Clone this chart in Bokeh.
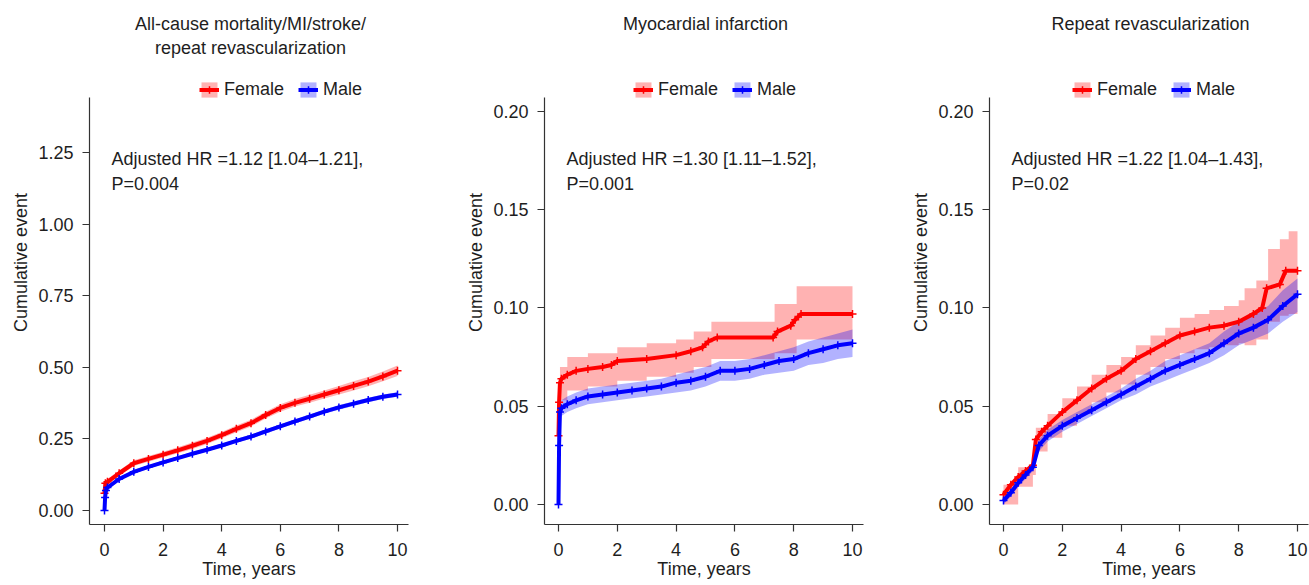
from bokeh.plotting import figure
from bokeh.models import Label, Legend, LegendItem, FixedTicker, PrintfTickFormatter, Range1d
from bokeh.layouts import row
from bokeh.embed import file_html
from bokeh.resources import INLINE

# ---------------- data ----------------
# Panel 1: All-cause mortality/MI/stroke/repeat revascularization
t1_female = [0, 0.03, 0.1, 0.5, 1, 1.5, 2, 2.5, 3, 3.5, 4, 4.5, 5, 5.5, 6, 6.5, 7, 7.5, 8, 8.5, 9, 9.5, 10]
y1_female = [0.06, 0.095, 0.10, 0.13, 0.165, 0.180, 0.195, 0.210, 0.226, 0.243, 0.263, 0.285, 0.305, 0.333, 0.358, 0.376, 0.390, 0.405, 0.420, 0.435, 0.450, 0.468, 0.488]
lo1_female = [0.045, 0.085, 0.09, 0.12, 0.155, 0.170, 0.185, 0.200, 0.215, 0.232, 0.252, 0.273, 0.293, 0.321, 0.345, 0.363, 0.376, 0.391, 0.405, 0.419, 0.434, 0.451, 0.470]
hi1_female = [0.075, 0.105, 0.11, 0.14, 0.175, 0.190, 0.205, 0.221, 0.237, 0.254, 0.274, 0.297, 0.317, 0.345, 0.371, 0.389, 0.404, 0.419, 0.435, 0.451, 0.466, 0.485, 0.506]
t1_male = [0, 0.02, 0.05, 0.1, 0.5, 1, 1.5, 2, 2.5, 3, 3.5, 4, 4.5, 5, 5.5, 6, 6.5, 7, 7.5, 8, 8.5, 9, 9.5, 10]
y1_male = [0.0, 0.045, 0.07, 0.08, 0.11, 0.135, 0.152, 0.168, 0.183, 0.198, 0.212, 0.227, 0.243, 0.258, 0.276, 0.294, 0.311, 0.328, 0.345, 0.360, 0.373, 0.386, 0.397, 0.405]
lo1_male = [0.0, 0.04, 0.064, 0.074, 0.104, 0.129, 0.146, 0.162, 0.177, 0.192, 0.206, 0.221, 0.236, 0.251, 0.269, 0.287, 0.304, 0.321, 0.338, 0.352, 0.365, 0.378, 0.389, 0.397]
hi1_male = [0.0, 0.05, 0.076, 0.086, 0.116, 0.141, 0.158, 0.174, 0.189, 0.204, 0.218, 0.233, 0.250, 0.265, 0.283, 0.301, 0.318, 0.335, 0.352, 0.368, 0.381, 0.394, 0.405, 0.413]

# Panel 2: Myocardial infarction
t2_female = [0, 0.02, 0.05, 0.1, 0.3, 0.6, 1, 1.5, 1.8, 2.0, 3, 4, 4.5, 4.9, 5.1, 5.4, 7.3, 7.45, 7.9, 8.05, 8.25, 10]
y2_female = [0.035, 0.052, 0.062, 0.064, 0.066, 0.068, 0.069, 0.070, 0.071, 0.073, 0.074, 0.076, 0.078, 0.080, 0.083, 0.085, 0.085, 0.088, 0.091, 0.094, 0.097, 0.097]
tb2_female = [0, 0.05, 0.3, 1, 2, 3, 4, 4.6, 5.2, 7.35, 8.1, 10]
lo2_female = [0.02, 0.053, 0.058, 0.060, 0.063, 0.065, 0.067, 0.070, 0.074, 0.077, 0.084, 0.084]
hi2_female = [0.05, 0.070, 0.075, 0.077, 0.080, 0.082, 0.084, 0.088, 0.093, 0.102, 0.111, 0.111]
t2_male = [0, 0.02, 0.05, 0.1, 0.3, 0.6, 1, 1.5, 2, 2.5, 3, 3.5, 4, 4.5, 5, 5.5, 6, 6.5, 7, 7.5, 8, 8.5, 9, 9.5, 10]
y2_male = [0.0, 0.030, 0.047, 0.049, 0.051, 0.053, 0.055, 0.056, 0.057, 0.058, 0.059, 0.060, 0.062, 0.063, 0.065, 0.068, 0.068, 0.069, 0.071, 0.073, 0.074, 0.077, 0.079, 0.081, 0.082]
lo2_male = [0.0, 0.026, 0.043, 0.045, 0.047, 0.049, 0.051, 0.052, 0.053, 0.054, 0.055, 0.056, 0.057, 0.058, 0.060, 0.063, 0.063, 0.064, 0.066, 0.067, 0.068, 0.071, 0.072, 0.074, 0.075]
hi2_male = [0.0, 0.034, 0.051, 0.053, 0.055, 0.057, 0.059, 0.060, 0.061, 0.062, 0.063, 0.064, 0.066, 0.068, 0.070, 0.073, 0.073, 0.074, 0.076, 0.078, 0.080, 0.083, 0.085, 0.087, 0.089]

# Panel 3: Repeat revascularization
t3_female = [0, 0.25, 0.5, 0.75, 1.0, 1.1, 1.3, 1.5, 2, 2.5, 3, 3.5, 4, 4.5, 5, 5.5, 6, 6.5, 7, 7.5, 8, 8.5, 8.8, 8.95, 9.4, 9.6, 10]
y3_female = [0.005, 0.010, 0.014, 0.017, 0.020, 0.033, 0.037, 0.040, 0.047, 0.053, 0.059, 0.064, 0.068, 0.074, 0.078, 0.082, 0.086, 0.088, 0.090, 0.091, 0.093, 0.097, 0.100, 0.110, 0.112, 0.119, 0.119]
tb3_female = [0, 0.5, 1.0, 1.1, 1.5, 2, 2.5, 3, 3.5, 4, 4.5, 5, 5.5, 6, 6.5, 7, 7.5, 8, 8.2, 8.6, 9.0, 9.4, 9.7, 10]
lo3_female = [0.0, 0.009, 0.015, 0.027, 0.034, 0.040, 0.046, 0.052, 0.057, 0.061, 0.066, 0.070, 0.074, 0.077, 0.079, 0.080, 0.081, 0.082, 0.081, 0.084, 0.093, 0.096, 0.097, 0.097]
hi3_female = [0.010, 0.019, 0.025, 0.039, 0.046, 0.054, 0.060, 0.066, 0.071, 0.075, 0.081, 0.086, 0.090, 0.095, 0.097, 0.099, 0.101, 0.104, 0.110, 0.114, 0.130, 0.135, 0.139, 0.139]
t3_male = [0, 0.25, 0.5, 0.75, 1.0, 1.2, 1.5, 2, 2.5, 3, 3.5, 4, 4.5, 5, 5.5, 6, 6.5, 7, 7.5, 8, 8.5, 9, 9.5, 10]
y3_male = [0.002, 0.006, 0.011, 0.015, 0.019, 0.030, 0.035, 0.040, 0.044, 0.048, 0.052, 0.056, 0.060, 0.064, 0.068, 0.071, 0.074, 0.077, 0.082, 0.087, 0.090, 0.094, 0.101, 0.107]
lo3_male = [0.0, 0.004, 0.009, 0.013, 0.017, 0.027, 0.032, 0.037, 0.041, 0.045, 0.049, 0.053, 0.056, 0.060, 0.063, 0.066, 0.069, 0.072, 0.076, 0.081, 0.084, 0.087, 0.093, 0.098]
hi3_male = [0.004, 0.008, 0.013, 0.017, 0.021, 0.033, 0.038, 0.043, 0.047, 0.051, 0.055, 0.059, 0.064, 0.068, 0.073, 0.076, 0.079, 0.082, 0.088, 0.093, 0.097, 0.101, 0.109, 0.115]

titles = [["All-cause mortality/MI/stroke/", "repeat revascularization"],
          ["Myocardial infarction"],
          ["Repeat revascularization"]]
hr_texts = ["Adjusted HR =1.12 [1.04\u20131.21],", "Adjusted HR =1.30 [1.11\u20131.52],", "Adjusted HR =1.22 [1.04\u20131.43],"]
p_texts = ["P=0.004", "P=0.001", "P=0.02"]
x_ticks = [0, 2, 4, 6, 8, 10]
y_ticks1 = [0.0, 0.25, 0.5, 0.75, 1.0, 1.25]
y_ticks23 = [0.0, 0.05, 0.10, 0.15, 0.20]
series_labels = ["Female", "Male"]

FONT = "Liberation Sans"
TXT = "#1e1e1e"
RED = "#ff0000"
BLUE = "#0000ff"
H = 585
MB_BOT = 61


def make_panel(width, mbl, mbr, xr, yr, ybounds, yticks, title_lines, hr, pv, fem, mal, leg_x, step_female):
    p = figure(width=width, height=H, output_backend="svg", toolbar_location=None,
               x_range=Range1d(*xr), y_range=Range1d(*yr),
               min_border_left=mbl, min_border_right=mbr,
               min_border_top=0, min_border_bottom=MB_BOT)
    p.outline_line_color = None
    p.grid.visible = False
    p.background_fill_color = "white"
    p.border_fill_color = "white"

    for ax in (p.xaxis[0], p.yaxis[0]):
        ax.axis_line_color = "#333333"
        ax.axis_line_width = 1.2
        ax.major_tick_line_color = "#333333"
        ax.major_tick_line_width = 1.2
        ax.major_tick_out = 7
        ax.major_tick_in = 0
        ax.minor_tick_line_color = None
        ax.major_label_text_font = FONT
        ax.major_label_text_font_size = "18px"
        ax.major_label_text_color = TXT
        ax.axis_label_text_font = FONT
        ax.axis_label_text_font_size = "18px"
        ax.axis_label_text_font_style = "normal"
        ax.axis_label_text_color = TXT
    p.xaxis.ticker = FixedTicker(ticks=x_ticks)
    p.yaxis.ticker = FixedTicker(ticks=yticks)
    p.yaxis.bounds = ybounds
    p.yaxis.formatter = PrintfTickFormatter(format="%.2f")
    p.xaxis.axis_label = "Time, years"
    p.yaxis.axis_label = "Cumulative event"
    p.xaxis.major_label_standoff = 11
    p.xaxis.axis_label_standoff = 0
    p.yaxis.major_label_standoff = 9
    p.yaxis.axis_label_standoff = 4

    bands = []
    for (t, y, tb, lo, hi, col), is_f in ((fem, True), (mal, False)):
        if is_f and step_female:
            band = p.varea_step(x=tb, y1=lo, y2=hi, step_mode="after",
                                fill_color=col, fill_alpha=0.3)
        else:
            band = p.varea(x=tb, y1=lo, y2=hi, fill_color=col, fill_alpha=0.3)
        bands.append(band)
    items = []
    for (t, y, tb, lo, hi, col), band, lab in ((fem, bands[0], series_labels[0]),
                                              (mal, bands[1], series_labels[1])):
        ln = p.line(x=t, y=y, line_color=col, line_width=4)
        sc = p.scatter(x=t, y=y, marker="cross", size=8, line_color=col, line_width=1.5)
        items.append(LegendItem(label=lab, renderers=[band, ln, sc]))

    legend = Legend(items=items, location=(leg_x, 424), orientation="horizontal",
                    label_text_font=FONT, label_text_font_size="18px", label_text_color=TXT,
                    glyph_width=20, glyph_height=19, label_height=19, label_standoff=5,
                    spacing=14, padding=0, margin=0,
                    border_line_color=None, background_fill_alpha=0)
    p.add_layout(legend)

    for i, line in enumerate(title_lines):
        p.add_layout(Label(x=161, y=501 - 24 * i, x_units="screen", y_units="screen",
                           text=line, text_align="center", text_baseline="middle",
                           text_font=FONT, text_font_size="18px", text_color=TXT))
    p.add_layout(Label(x=22, y=366, x_units="screen", y_units="screen", text=hr,
                       text_align="left", text_baseline="middle",
                       text_font=FONT, text_font_size="18px", text_color=TXT))
    p.add_layout(Label(x=22, y=341, x_units="screen", y_units="screen", text=pv,
                       text_align="left", text_baseline="middle",
                       text_font=FONT, text_font_size="18px", text_color=TXT))
    return p


p1 = make_panel(455, 89, 47, (-0.512, 10.375), (-0.0489, 1.7807), (-0.0489, 1.442), y_ticks1,
                titles[0], hr_texts[0], p_texts[0],
                (t1_female, y1_female, t1_female, lo1_female, hi1_female, RED),
                (t1_male, y1_male, t1_male, lo1_male, hi1_male, BLUE), 110, False)
p2 = make_panel(445, 89, 37, (-0.476, 10.374), (-0.0102, 0.2565), (-0.0102, 0.2071), y_ticks23,
                titles[1], hr_texts[1], p_texts[1],
                (t2_female, y2_female, tb2_female, lo2_female, hi2_female, RED),
                (t2_male, y2_male, t2_male, lo2_male, hi2_male, BLUE), 89, True)
p3 = make_panel(409, 89, 1, (-0.476, 10.374), (-0.0102, 0.2565), (-0.0102, 0.2071), y_ticks23,
                titles[2], hr_texts[2], p_texts[2],
                (t3_female, y3_female, tb3_female, lo3_female, hi3_female, RED),
                (t3_male, y3_male, t3_male, lo3_male, hi3_male, BLUE), 83, True)

layout = row(p1, p2, p3)
open("out.html", "w").write(file_html(layout, INLINE))
